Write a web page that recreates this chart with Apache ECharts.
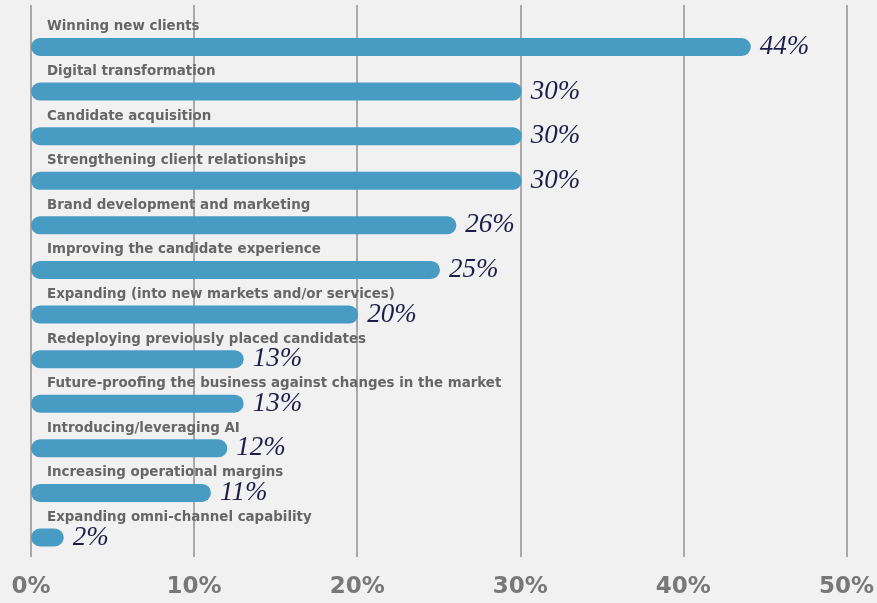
<!DOCTYPE html>
<html>
<head>
<meta charset="utf-8">
<style>
  html, body { margin: 0; padding: 0; background: #f1f1f1; }
  #chart { width: 877px; height: 603px; }
</style>
<script src="https://cdn.jsdelivr.net/npm/echarts@6/dist/echarts.min.js"></script>
</head>
<body>
<div id="chart"></div>
<script>
// Business priorities, share of respondents (%)
const categories = [
  'Winning new clients',
  'Digital transformation',
  'Candidate acquisition',
  'Strengthening client relationships',
  'Brand development and marketing',
  'Improving the candidate experience',
  'Expanding (into new markets and/or services)',
  'Redeploying previously placed candidates',
  'Future-proofing the business against changes in the market',
  'Introducing/leveraging AI',
  'Increasing operational margins',
  'Expanding omni-channel capability'
];
const values = [44, 30, 30, 30, 26, 25, 20, 13, 13, 12, 11, 2];
const axisMin = 0;
const axisMax = 50;
const axisStep = 10;

const chart = echarts.init(document.getElementById('chart'), null, { renderer: 'canvas' });

chart.setOption({
  backgroundColor: '#f1f1f1',
  animation: false,
  grid: [
    // grid for the vertical guide lines and percentage ticks
    { left: 31, right: 28, top: 5, bottom: 46, containLabel: false },
    // grid for the bars themselves
    { left: 31, right: 28, top: 24.7, bottom: 43.2, containLabel: false }
  ],
  xAxis: [
    {
      gridIndex: 0,
      type: 'value',
      min: axisMin, max: axisMax, interval: axisStep,
      axisLine: { show: false },
      axisTick: { show: false },
      splitLine: { show: true, lineStyle: { color: '#a9a9a9', width: 2 } },
      axisLabel: {
        margin: 19,
        color: '#787878',
        fontFamily: 'DejaVu Sans',
        fontWeight: 'bold',
        fontSize: 23,
        formatter: v => v + '%'
      }
    },
    {
      gridIndex: 1,
      type: 'value',
      min: axisMin, max: axisMax,
      show: false
    }
  ],
  yAxis: [
    {
      gridIndex: 0,
      type: 'category',
      data: categories,
      show: false
    },
    {
      gridIndex: 1,
      type: 'category',
      data: categories,
      inverse: true,
      show: false
    }
  ],
  series: [
    {
      // invisible full-width track that carries the category name above each bar
      type: 'bar',
      xAxisIndex: 1,
      yAxisIndex: 1,
      data: categories.map(() => axisMax),
      barWidth: 18,
      silent: true,
      z: 3,
      itemStyle: { color: 'rgba(0,0,0,0)' },
      label: {
        show: true,
        position: [16, -11],
        align: 'left',
        verticalAlign: 'middle',
        formatter: p => p.name,
        color: '#666666',
        fontFamily: 'DejaVu Sans',
        fontWeight: 'bold',
        fontSize: 13.4
      }
    },
    {
      type: 'bar',
      xAxisIndex: 1,
      yAxisIndex: 1,
      data: values,
      barWidth: 18,
      barGap: '-100%',
      z: 2,
      itemStyle: { color: '#489cc4', borderRadius: 9 },
      label: {
        show: true,
        position: 'right',
        distance: 9,
        formatter: p => p.value + '%',
        color: '#1d1d4b',
        fontFamily: 'Liberation Serif',
        fontStyle: 'italic',
        fontSize: 27
      }
    }
  ]
});
</script>
</body>
</html>
